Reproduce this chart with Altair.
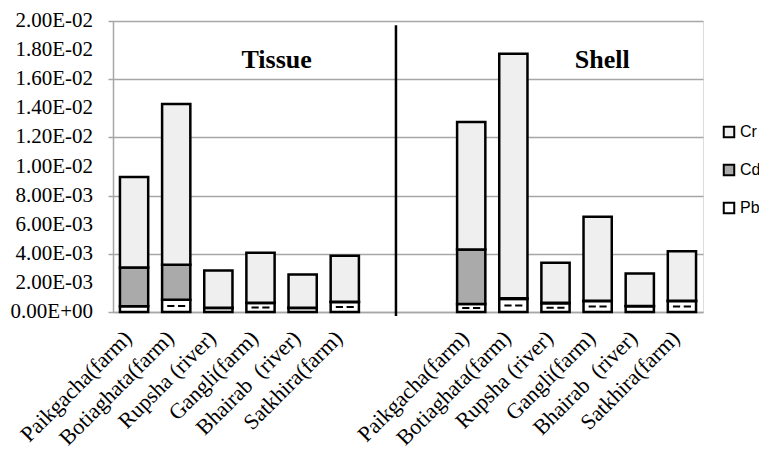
import json
import altair as alt
import pandas as pd

# ---------------- data ----------------
sites = ["Paikgacha(farm)", "Botiaghata(farm)", "Rupsha (river)",
         "Gangli(farm)", "Bhairab\u00a0 (river)", "Satkhira(farm)"]
groups = ["Tissue", "Shell"]
keys_tissue = ["T1", "T2", "T3", "T4", "T5", "T6"]
gap_keys = ["G1", "G2"]
keys_shell = ["S1", "S2", "S3", "S4", "S5", "S6"]

pb_tissue = [4.0e-4, 8.4e-4, 2.8e-4, 6.2e-4, 2.8e-4, 6.8e-4]
cd_tissue = [2.65e-3, 2.41e-3, 2.0e-5, 2.0e-5, 2.0e-5, 2.0e-5]
cr_tissue = [6.22e-3, 1.105e-2, 2.55e-3, 3.43e-3, 2.28e-3, 3.17e-3]

pb_shell = [5.5e-4, 9.0e-4, 6.0e-4, 7.5e-4, 4.0e-4, 7.5e-4]
cd_shell = [3.75e-3, 5.0e-5, 3.0e-5, 2.0e-5, 2.0e-5, 2.0e-5]
cr_shell = [8.75e-3, 1.68e-2, 2.75e-3, 5.78e-3, 2.23e-3, 3.40e-3]

metals = ["Cr", "Cd", "Pb"]
metal_colors = ["#efefef", "#aaaaaa", "#ffffff"]
y_ticks = [0.0, 0.002, 0.004, 0.006, 0.008, 0.010, 0.012, 0.014, 0.016, 0.018, 0.020]

# ---------------- table ----------------
rows = []
for keys, pb, cd, cr in [(keys_tissue, pb_tissue, cd_tissue, cr_tissue),
                         (keys_shell, pb_shell, cd_shell, cr_shell)]:
    for k, a, b, c in zip(keys, pb, cd, cr):
        rows.append({"key": k, "metal": "Pb", "value": a, "ord": 0})
        rows.append({"key": k, "metal": "Cd", "value": b, "ord": 1})
        rows.append({"key": k, "metal": "Cr", "value": c, "ord": 2})
df = pd.DataFrame(rows)
ticks_df = pd.DataFrame({"v": y_ticks})

domain = keys_tissue + gap_keys + keys_shell
label_names = sites + ["", ""] + sites
label_expr = (json.dumps(label_names, ensure_ascii=False) + "[indexof("
              + json.dumps(domain) + ", datum.value)]")
y_label_calc = "replace(replace(format(datum.v, '.2e'), 'e-', 'E-0'), 'e+', 'E+0')"

xscale = alt.Scale(domain=domain, paddingInner=0.33, paddingOuter=0.165)
yscale = alt.Scale(domain=[0, 0.02], nice=False, zero=True)

GRID = "#a6a6a6"
SERIF = "Liberation Serif"


def yaxis():
    return alt.Axis(values=y_ticks, labels=False, tickCount=10)


def xaxis():
    return alt.Axis(labelExpr=label_expr)


bars = alt.Chart(df).mark_bar(stroke="black", strokeWidth=2.5).encode(
    x=alt.X("key:N", scale=xscale, sort=domain, title=None, axis=xaxis()),
    y=alt.Y("value:Q", stack="zero", scale=yscale, title=None, axis=yaxis()),
    fill=alt.Fill("metal:N", scale=alt.Scale(domain=metals, range=metal_colors),
                  legend=alt.Legend(title=None, orient="none", legendX=608, legendY=103,
                                    symbolType="square", symbolSize=110,
                                    symbolStrokeColor="black", symbolStrokeWidth=2,
                                    labelFont="Liberation Sans", labelFontSize=16,
                                    labelColor="black", rowPadding=18, labelOffset=3)),
    order=alt.Order("ord:Q"),
)

# y tick labels in 0.00E+00 style
ylabels = alt.Chart(ticks_df).transform_calculate(lab=y_label_calc).mark_text(
    align="right", baseline="middle", font=SERIF, fontSize=21, color="black", dx=-20
).encode(
    x=alt.value(0),
    y=alt.Y("v:Q", scale=yscale, title=None, axis=yaxis()),
    text="lab:N",
)

dashes = alt.Chart(df).transform_filter(
    "datum.metal == 'Pb' && datum.value >= 0.0005"
).transform_calculate(mid="datum.value / 2").mark_point(
    shape="M-1,0L-0.2,0M0.2,0L1,0", size=324, color="black", filled=False,
    strokeWidth=2, opacity=1
).encode(
    x=alt.X("key:N", scale=xscale, sort=domain, title=None, axis=xaxis()),
    y=alt.Y("mid:Q", scale=yscale, title=None, axis=yaxis()),
)

one = alt.Data(values=[{}])

divider = alt.Chart(one).mark_rule(color="black", strokeWidth=2.5).encode(
    x=alt.X(datum="G1", type="nominal", bandPosition=0.82, title=None, axis=xaxis()),
    y=alt.Y(datum=0.0197, type="quantitative", title=None, axis=yaxis()),
    y2=alt.Y2(datum=-0.00027),
)

tissue_txt = alt.Chart(one).mark_text(
    text=groups[0], font=SERIF, fontSize=26, fontWeight="bold",
    baseline="alphabetic", dx=2
).encode(
    x=alt.X(datum="T4", type="nominal", bandPosition=1.0, title=None, axis=xaxis()),
    y=alt.Y(datum=0.0168, type="quantitative", title=None, axis=yaxis()),
)

shell_txt = alt.Chart(one).mark_text(
    text=groups[1], font=SERIF, fontSize=26, fontWeight="bold",
    baseline="alphabetic"
).encode(
    x=alt.X(datum="S4", type="nominal", bandPosition=0.66, title=None, axis=xaxis()),
    y=alt.Y(datum=0.0168, type="quantitative", title=None, axis=yaxis()),
)

chart = alt.layer(bars, ylabels, dashes, divider, tissue_txt, shell_txt).properties(
    width=590, height=291,
    autosize=alt.AutoSizeParams(type="none"),
    padding={"left": 105, "top": 13, "right": 56, "bottom": 138},
).configure_view(strokeWidth=0).configure(background="white").configure_axisX(
    labelAngle=-45, labelAlign="right", labelBaseline="middle", labelFont=SERIF,
    labelFontSize=22, labelColor="black", labelPadding=22, labelOffset=-6,
    ticks=False, domainColor=GRID, domainWidth=1.5, labelOverlap=False, grid=False,
).configure_axisY(
    gridColor=GRID, gridWidth=1.5, domainColor=GRID, domainWidth=1.5,
    tickColor=GRID, tickSize=5, tickWidth=1.5, grid=True, tickCount=10,
)

chart.save("out.html", embed_options={"renderer": "svg", "actions": False})
